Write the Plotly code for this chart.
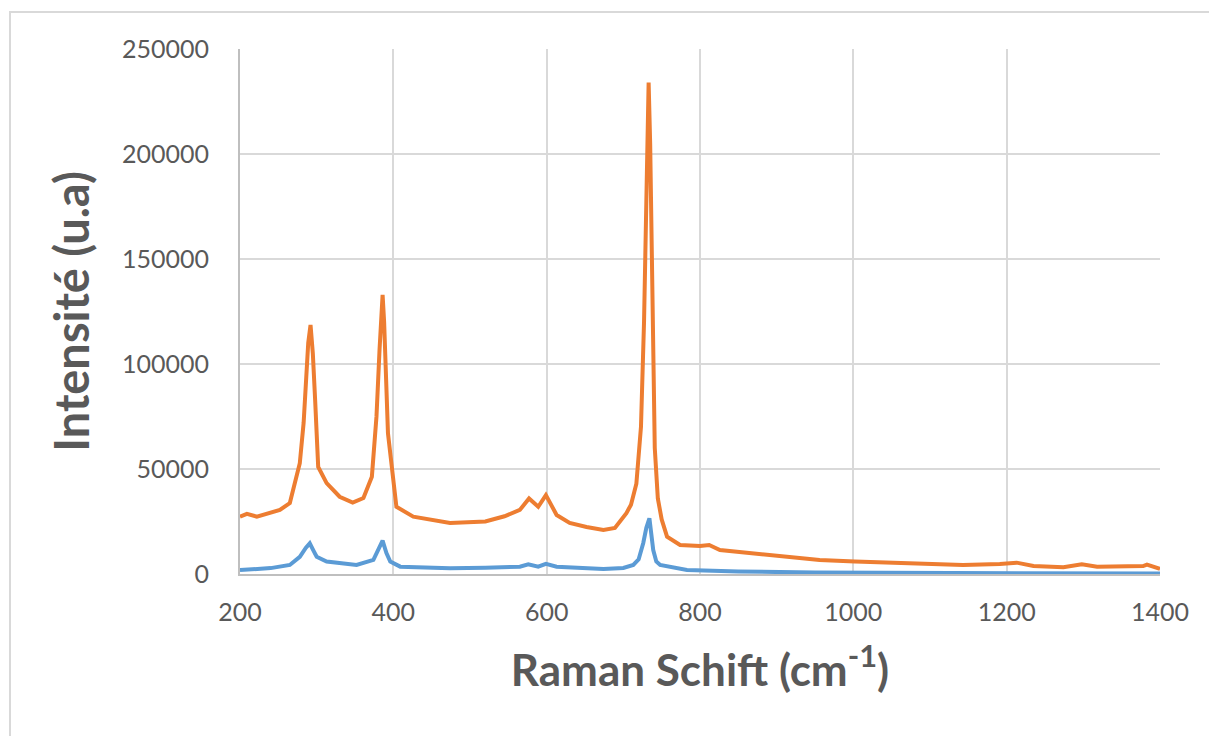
import plotly.graph_objects as go

# Raman spectra (cm-1, intensity u.a)
shift_orange = [200, 209, 222, 252, 265, 278, 283, 286, 289, 292, 295, 298, 302, 313, 330, 347, 361,
                372, 378, 382, 384, 386, 388, 390, 393, 404, 426, 474, 520, 545, 565, 577, 589,
                599, 613, 630, 652, 674, 689, 704, 710, 717, 723, 727, 731, 733, 735, 738, 741,
                745, 750, 757, 774, 800, 812, 826, 891, 956, 1002, 1078, 1143, 1191, 1213, 1235,
                1274, 1298, 1318, 1378, 1383, 1400]
int_orange = [27300, 28600, 27300, 30500, 33800, 52800, 72000, 91000, 110000, 118600, 105000,
              82900, 51000, 43300, 36800, 34000, 36200, 46300, 74900, 106700, 125000, 132900,
              120000, 98700, 67000, 32000, 27300, 24300, 25000, 27500, 30500, 36000, 32000,
              37600, 28100, 24300, 22400, 21000, 21900, 29000, 33000, 43000, 70000, 120000,
              200000, 234000, 205000, 130000, 60000, 36000, 26000, 17800, 13800, 13300, 13800,
              11400, 9000, 6700, 5900, 5100, 4300, 4800, 5400, 3800, 3200, 4600, 3500, 3800,
              4500, 2400]

shift_blue = [200, 240, 265, 278, 286, 291, 296, 300, 313, 352, 374, 381, 386, 391, 396, 409, 474,
              520, 565, 576, 589, 599, 613, 674, 700, 713, 720, 726, 730, 734, 737, 739, 743, 748,
              783, 850, 950, 1100, 1250, 1400]
int_blue = [1900, 2800, 4300, 8200, 12500, 14600, 11000, 8200, 5900, 4300, 6700, 12000, 15900,
            10000, 5900, 3500, 2700, 3000, 3500, 4600, 3500, 4800, 3500, 2400, 2900, 4300, 7000,
            14800, 22000, 26500, 18000, 11400, 6000, 4300, 1900, 1200, 700, 400, 300, 200]

x_ticks = [200, 400, 600, 800, 1000, 1200, 1400]
y_ticks = [0, 50000, 100000, 150000, 200000, 250000]

fig = go.Figure()

fig.add_trace(go.Scatter(
    x=shift_blue, y=int_blue, mode='lines',
    line=dict(color='#5B9BD5', width=4), showlegend=False
))
fig.add_trace(go.Scatter(
    x=shift_orange, y=int_orange, mode='lines',
    line=dict(color='#ED7D31', width=4), showlegend=False
))

# outer chart border
fig.add_shape(type='rect', xref='paper', yref='paper',
              x0=-0.25, x1=1.07, y0=-0.4, y1=1.0705,
              line=dict(color='#D9D9D9', width=2), layer='below')

# page body has an 8px margin, so the figure is a bit smaller than the window
fig.update_layout(
    width=1209, height=728,
    margin=dict(l=232, r=57, t=41, b=162),
    paper_bgcolor='white', plot_bgcolor='white',
    font=dict(family='Lato, sans-serif', color='#595959'),
    xaxis=dict(
        range=[200, 1400], tickvals=x_ticks,
        showgrid=True, gridcolor='#D9D9D9', gridwidth=2,
        showline=True, linecolor='#BFBFBF', linewidth=2,
        zeroline=False, ticks='', tickfont=dict(size=25, color='#595959'),
        ticklabelstandoff=15,
        title=dict(text='<b>Raman Schift (cm<sup>-1</sup>)</b>',
                   font=dict(size=44, color='#595959'), standoff=30),
    ),
    yaxis=dict(
        range=[0, 250000], tickvals=y_ticks, tickformat='d',
        showgrid=True, gridcolor='#D9D9D9', gridwidth=2,
        showline=True, linecolor='#BFBFBF', linewidth=2,
        zeroline=False, ticks='', tickfont=dict(size=25, color='#595959'),
        ticklabelstandoff=24,
        title=dict(text='<b>Intensité (u.a)</b>',
                   font=dict(size=47, color='#595959'), standoff=18),
    ),
)

fig.write_html("out.html")
